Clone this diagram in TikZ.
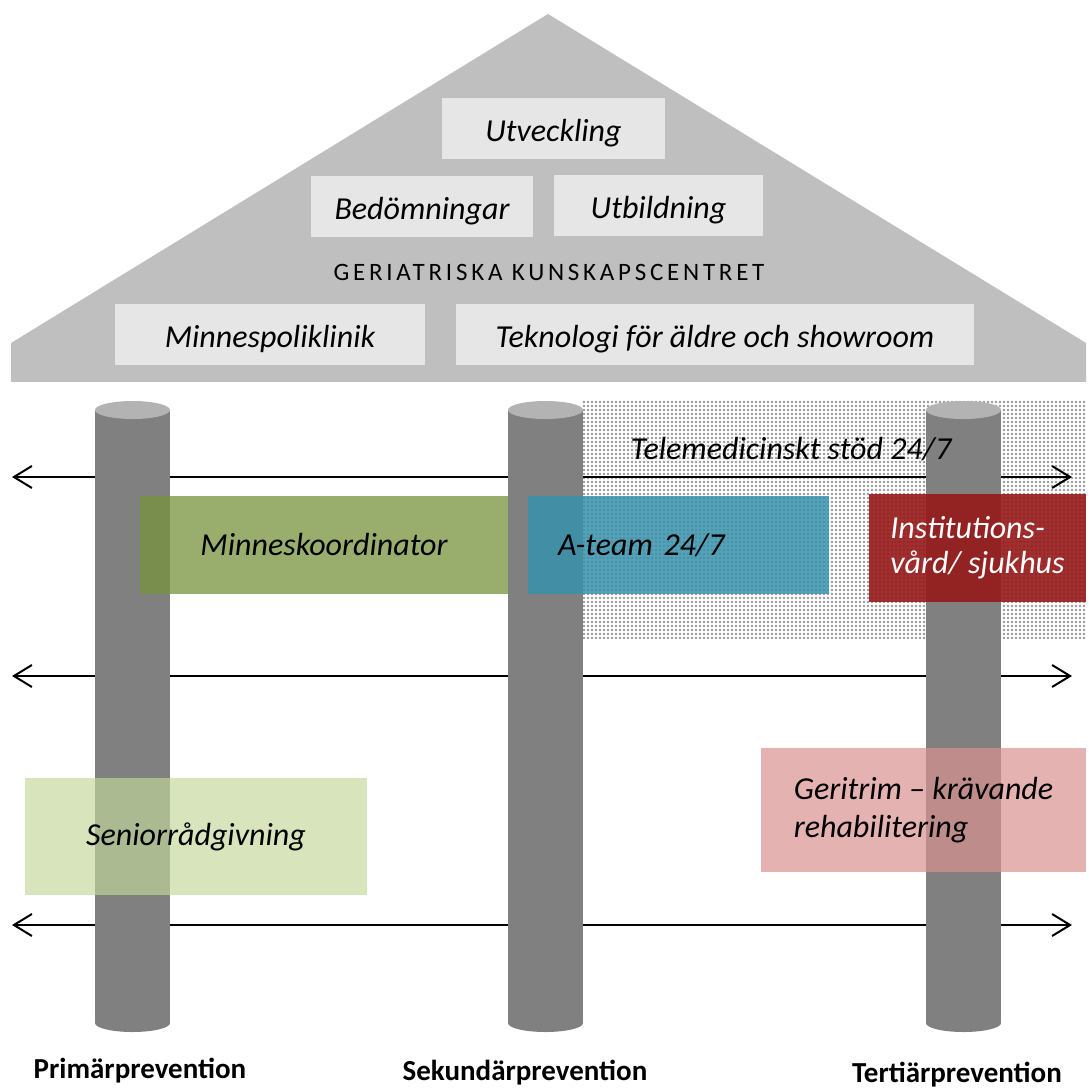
\documentclass[tikz,border=0pt]{standalone}
\usepackage{fontspec}
\setmainfont{Carlito}
\usetikzlibrary{arrows.meta,patterns.meta}
\definecolor{roofgray}{RGB}{191,191,191}
\definecolor{tilegray}{RGB}{230,230,230}
\definecolor{pillargray}{RGB}{128,128,128}
\definecolor{pillartop}{RGB}{179,179,179}
\definecolor{dotgray}{RGB}{150,150,150}
\definecolor{olive}{RGB}{119,147,60}
\definecolor{lightolive}{RGB}{195,215,155}
\definecolor{aqua}{RGB}{55,145,172}
\definecolor{darkred}{RGB}{150,25,25}
\definecolor{rose}{RGB}{218,146,146}

\begin{document}
\begin{tikzpicture}[x=0.5pt,y=-0.5pt,
    tile/.style={fill=tilegray,inner sep=0pt,minimum height=30.5pt,
      text height=13pt,text depth=0pt,
      font=\fontsize{16}{19}\selectfont\itshape},
    band/.style={inner sep=0pt,font=\fontsize{16}{19}\selectfont\itshape},
    level/.style={line width=1pt,
      {Straight Barb[length=9pt,width=11pt]}-{Straight Barb[length=9pt,width=11pt]}},
    stage/.style={font=\fontsize{14.5}{17}\selectfont\bfseries}]
  \useasboundingbox (0,0) rectangle (1088,1090);

  % roof
  \fill[roofgray] (548,14) -- (1086,343) -- (1086,382) -- (11,382) -- (11,343) -- cycle;
  \node[tile,minimum width=111.5pt] (utv) at (553.5,128.5) {Utveckling};
  \node[tile,minimum width=111pt]   (bed) at (422,206.5)   {Bedömningar};
  \node[tile,minimum width=104.5pt] (utb) at (658.5,205.5) {Utbildning};
  \node[font=\fontsize{12.5}{15}\selectfont\addfontfeature{LetterSpace=15}]
    (gkc) at (549,272) {GERIATRISKA KUNSKAPSCENTRET};
  \node[tile,minimum width=155pt]   (mpk) at (270,334.5)   {Minnespoliklinik};
  \node[tile,minimum width=259pt]   (tek) at (715,334.5)   {Teknologi för äldre och showroom};

  % telemedicine area
  \fill[pattern={Dots[distance=2pt,radius=0.7pt]},pattern color=dotgray]
    (582,400) rectangle (1086,638);

  % levels
  \coordinate (l1) at (12,477);  \coordinate (r1) at (1072,477);
  \coordinate (l2) at (12,676);  \coordinate (r2) at (1072,676);
  \coordinate (l3) at (12,925);  \coordinate (r3) at (1072,925);
  \path[level]
    (l1) edge (r1)
    (l2) edge (r2)
    (l3) edge (r3);

  % pillars
  \foreach \cx in {132.5,545.5,963.5} {
    \fill[pillargray] (\cx-37.5,410) rectangle (\cx+37.5,1023);
    \fill[pillargray] (\cx,1023) ellipse [x radius=37.5,y radius=9];
    \fill[pillartop]  (\cx,410) ellipse [x radius=37.5,y radius=9];
  }

  \node[band] (tele) at (791,449) {Telemedicinskt stöd 24/7};
  \node[band,fill=olive,fill opacity=.75,text opacity=1,
    minimum width=184pt,minimum height=49pt] (mk) at (324,545) {Minneskoordinator};
  \node[band,fill=aqua,fill opacity=.85,text opacity=1,align=left,
    text width=120.5pt,inner xsep=15pt,minimum height=49pt] (at) at (678.5,545) {A-team 24/7};
  \node[band,fill=darkred,fill opacity=.9,text opacity=1,text=white,align=left,
    font=\fontsize{16}{17.5}\selectfont\itshape,
    minimum width=108.5pt,minimum height=54pt] (inst) at (977.5,548)
    {Institutions-\\vård/ sjukhus};
  \node[band,fill=rose,fill opacity=.7,text opacity=1,align=left,
    minimum width=162.5pt,minimum height=62pt] (geri) at (923.5,810)
    {Geritrim – krävande\\rehabilitering};
  \node[band,fill=lightolive,fill opacity=.67,text opacity=1,
    minimum width=171pt,minimum height=58.5pt] (sen) at (196,836.5) {Seniorrådgivning};

  % prevention stages
  \node[stage] (prim) at (140,1071) {Primärprevention};
  \node[stage] (sek)  at (525,1073) {Sekundärprevention};
  \node[stage] (ter)  at (957,1075) {Tertiärprevention};
\end{tikzpicture}
\end{document}
